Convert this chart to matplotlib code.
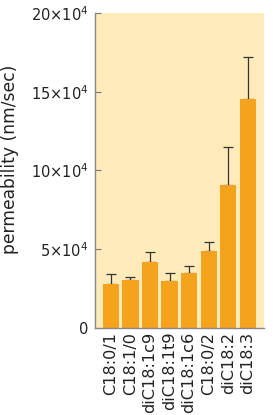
import matplotlib
matplotlib.use("Agg")
import matplotlib.pyplot as plt
import numpy as np

categories = ["C18:0/1", "C18:1/0", "diC18:1c9", "diC18:1t9", "diC18:1c6", "C18:0/2", "diC18:2", "diC18:3"]
values = [2.78e4, 3.02e4, 4.18e4, 2.97e4, 3.48e4, 4.87e4, 9.09e4, 14.57e4]
err_top = [3.40e4, 3.21e4, 4.80e4, 3.50e4, 3.91e4, 5.46e4, 11.47e4, 17.20e4]
yticks = [0, 5e4, 10e4, 15e4, 20e4]
yticklabels = ["0", r"$5{\times}10^{4}$", r"$10{\times}10^{4}$", r"$15{\times}10^{4}$", r"$20{\times}10^{4}$"]

plt.rcParams['font.family'] = ['DejaVu Sans']
plt.rcParams['mathtext.fontset'] = 'dejavusans'

fig = plt.figure(figsize=(2.8, 4.15), dpi=100)
ax = fig.add_axes([94.7/280, 1 - 327.7/415, (264.3-94.7)/280, (327.7-13.3)/415])
ax.set_facecolor("#FFEBBA")

x = np.arange(len(categories))
errs = np.array(err_top) - np.array(values)
ax.bar(x, values, width=0.83, color="#F5A31C", zorder=2)
ax.errorbar(x, values, yerr=[np.zeros_like(errs), errs], fmt="none", ecolor="#333333",
            elinewidth=0.9, capsize=3.5, capthick=0.9, zorder=1)

ax.set_xlim(-0.83, 7.85)
ax.set_ylim(0, 20e4)
ax.set_yticks(yticks)
ax.set_yticklabels(yticklabels, fontsize=10.5, color="#222222")
ax.set_xticks(x)
ax.set_xticklabels(categories, rotation=90, fontsize=11.6, color="#222222")
ax.tick_params(axis="y", direction="in", length=4, color="#777777", pad=4.5)
ax.tick_params(axis="x", length=0, pad=3)
for s in ["top", "right"]:
    ax.spines[s].set_visible(False)
for s in ["left", "bottom"]:
    ax.spines[s].set_color("#888888")
    ax.spines[s].set_linewidth(1.0)
ax.set_ylabel("permeability (nm/sec)", fontsize=12.3, color="#222222")
ax.yaxis.set_label_coords(-0.445, 0.535)

fig.savefig("out.png", dpi=100)
